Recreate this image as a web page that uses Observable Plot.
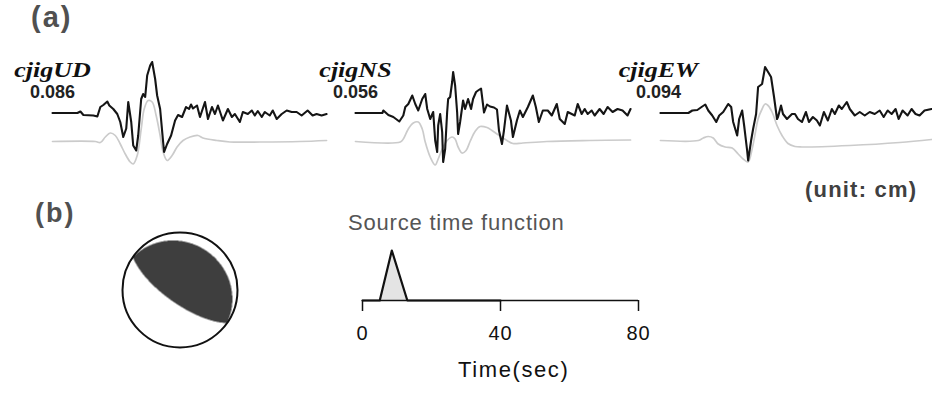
<!DOCTYPE html>
<html>
<head>
<meta charset="utf-8">
<script src="https://cdn.jsdelivr.net/npm/d3@7"></script>
<script src="https://cdn.jsdelivr.net/npm/@observablehq/plot@0.6"></script>
<style>
  html, body { margin: 0; padding: 0; background: #fff; }
  #root { position: relative; width: 932px; height: 397px; overflow: hidden; font-family: "Liberation Sans", Arial, sans-serif; }
  .abs { position: absolute; line-height: 1; white-space: nowrap; }
  .panel { font-weight: bold; color: #505050; }
  #stfwrap svg text { font-size: 20px !important; letter-spacing: 1px; fill: #111; }
</style>
</head>
<body>
<div id="root"></div>
<script>
// ---------------- DATA ----------------
const components = ["UD", "NS", "EW"];
const stationNames = ["cjigUD", "cjigNS", "cjigEW"];
const peakAmplitudes = ["0.086", "0.056", "0.094"];

// waveforms: [sample, amplitude]; observed (black) and synthetic (gray)
const obsUD = [[0,0],[25,0],[28,1.5],[31,-2],[41,-2.5],[45,-3.5],[48,6],[51,8],[55,11.5],[57,7.5],[61,4],[65,-1],[68,-9],[71,-24],[74,-15.5],[76,11],[79,-9],[81,-32.5],[84,-37.5],[86,-22.5],[89,14],[91,19],[93,16],[95,37.5],[98,47.5],[100,51],[103,34],[105,17.5],[108,4],[111,-29],[112,-39],[115,-31],[119,-22.5],[123,-7.5],[126,-2],[130,-4],[134,6],[137,4],[139,8.5],[141,4.5],[145,7.5],[148,-4],[153,11],[156,-6],[160,6],[163,-1],[166,7.5],[171,-7.5],[176,4],[180,-4],[183,-1],[188,-9],[191,1],[196,-1],[200,2.5],[203,-2.5],[206,2],[210,-4],[213,1],[218,-2.5],[221,2.5],[225,-6],[230,-1],[235,2.5],[240,1],[245,1],[250,-2.5],[256,2.5],[261,-2.5],[265,-1],[270,-2.5],[275,-1]];
const synUD = [[0,-0.5],[43,-0.5],[48,-1.5],[53,4],[58,8],[63,5.5],[68,-3],[73,-13],[78,-21],[81,-23],[85,-14.5],[89,12],[92,32],[96,40.5],[100,39],[104,25.5],[108,5.5],[111,-11],[115,-19.5],[120,-14.5],[125,-6],[131,0.5],[138,4],[146,5.5],[151,3],[165,0.5],[178,-1],[208,-1],[248,-0.5],[275,0.5]];
const obsNS = [[0,0],[27,0],[28,2.5],[33,-2],[38,-4],[44,-8.5],[48,-2.5],[50,6],[53,9],[57,17.5],[60,9],[63,2.5],[67,14],[70,19],[72,4],[75,-6],[78,1],[80,-27.5],[82,-39],[83,-12.5],[85,-1],[87,-19],[88,-49],[90,-36],[92,1],[93,14],[95,16],[97,31],[98,41],[100,27.5],[102,1],[103,-21],[105,-9],[108,12.5],[110,4],[113,14],[116,4],[118,14],[121,21],[123,22.5],[126,24.5],[129,0.5],[132,8.5],[135,6.5],[139,5.5],[142,3.5],[144,-17.5],[147,-31],[149,-17.5],[152,7.5],[156,-7.5],[158,-24],[162,-7.5],[165,2.5],[168,-4],[173,6],[178,17.5],[181,6],[184,-9],[188,2.5],[193,2.5],[197,-2.5],[202,9],[205,-6],[210,-11],[213,1],[217,-1],[220,-2.5],[223,9],[227,-1],[230,4],[233,-1],[237,2.5],[240,-2.5],[245,4],[249,-1],[253,6],[258,1],[263,4],[268,2.5],[273,-2.5],[276,4]];
const synNS = [[0,-0.5],[45,-1],[48,2],[53,12],[58,18],[63,19],[67,12],[70,-1],[75,-16],[80,-24],[83,-18],[87,-8],[92,0.5],[97,4],[100,2],[103,-6],[107,-12],[111,-9.5],[115,-0.5],[120,9.5],[125,14.5],[132,13.5],[137,10.5],[142,7],[152,0.5],[158,-2.5],[168,-2],[192,-0.5],[235,0.5],[276,1]];
const obsEW = [[2,0],[30,0],[34,2.5],[39,3],[44,6.5],[47,8.5],[50,2.5],[54,-2.5],[58,-9],[61,-2.5],[65,1],[70,9],[73,6],[75,-9],[79,-22.5],[81,-6],[84,2.5],[86,-12.5],[89,-37.5],[90,-47.5],[93,-27.5],[95,-16],[98,-1],[100,26],[102,27.5],[104,29],[107,46],[110,41],[113,36],[116,16],[119,-6],[120,-4],[123,7.5],[125,-1],[129,-6],[134,-1],[137,-1],[140,-6],[144,-9],[148,1],[151,-9],[155,-4],[159,-7.5],[162,-12.5],[166,1],[170,-7.5],[174,4],[177,-1],[181,7.5],[184,4],[189,11],[192,4],[197,-2.5],[202,1],[207,-2.5],[212,1],[217,-1],[222,2.5],[226,-4],[230,2.5],[234,-1],[238,4],[241,-6],[245,2.5],[250,-2.5],[254,4],[258,-1],[262,-2.5],[267,2.5],[274,4]];
const synEW = [[2,0.5],[40,0.5],[45,3],[50,4.5],[55,3],[60,-3],[67,-6],[74,-7],[80,-13],[85,-18],[90,-21],[94,-8],[97,7],[100,22],[104,32],[107,37],[110,35.5],[114,29],[119,15.5],[124,5.5],[130,-2.5],[137,-5.5],[144,-6],[192,-4.5],[242,-1.5],[274,1.5]];

// focal mechanism (degrees)
const strike = 125, dip = 71, rake = 90;

// source time function
const stfTime = [0, 5, 8.5, 13, 40];
const stfAmp  = [0, 0, 1, 0, 0];
const stfTicks = [0, 40, 80];

// ---------------- BUILD ----------------
const root = document.getElementById("root");
function addText(txt, cls, left, top, style) {
  const d = document.createElement("div");
  d.className = "abs " + (cls || "");
  d.textContent = txt;
  d.style.left = left + "px"; d.style.top = top + "px";
  Object.assign(d.style, style || {});
  root.appendChild(d);
  return d;
}
function place(node, left, top, id) {
  const w = document.createElement("div");
  w.className = "abs";
  if (id) w.id = id;
  w.style.left = left + "px"; w.style.top = top + "px";
  w.appendChild(node);
  root.appendChild(w);
}

// --- waveform panels ---
const traceGap = 28; // vertical offset of synthetic trace below observed
const series = {UD: [obsUD, synUD], NS: [obsNS, synNS], EW: [obsEW, synEW]};
const rows = [];
for (const c of components) {
  series[c][0].forEach(([t, a]) => rows.push({comp: c, kind: "obs", t, a}));
  series[c][1].forEach(([t, a]) => rows.push({comp: c, kind: "syn", t, a}));
}
const labels = components.map((c, i) => ({comp: c, name: stationNames[i], amp: peakAmplitudes[i]}));

const wave = Plot.plot({
  width: 932, height: 180,
  marginLeft: 52, marginRight: 0, marginTop: 0, marginBottom: 0,
  fx: {domain: components, paddingInner: 0.0954, paddingOuter: 0, round: false, axis: null},
  x: {domain: [0, 275], axis: null},
  y: {domain: [-67.5, 112.5], axis: null},
  style: {overflow: "visible", background: "transparent"},
  marks: [
    Plot.line(rows.filter(d => d.kind === "syn"), {fx: "comp", x: "t", y: d => d.a - traceGap, stroke: "#cbcbcb", strokeWidth: 1.7, curve: "catmull-rom"}),
    Plot.line(rows.filter(d => d.kind === "obs"), {fx: "comp", x: "t", y: "a", stroke: "#151515", strokeWidth: 2.1, strokeLinejoin: "round"}),
    Plot.text(labels, {fx: "comp", frameAnchor: "top-left", text: "name", textAnchor: "middle", lineAnchor: "bottom", dy: 76.5,
      fontFamily: "Liberation Serif, Times New Roman, serif", fontStyle: "italic", fontWeight: "bold", fontSize: 21, fill: "#111", className: "stname"}),
    Plot.text(labels, {fx: "comp", frameAnchor: "top-left", text: "amp", textAnchor: "middle", lineAnchor: "bottom", dy: 97,
      fontFamily: "Liberation Sans, Arial, sans-serif", fontWeight: "bold", fontSize: 18, fill: "#222"})
  ]
});
place(wave, 0, 0);
// stretch station names horizontally like the original lettering
wave.querySelectorAll("g.stname text, .stname text").forEach(t => {
  const L = t.getComputedTextLength();
  t.setAttribute("textLength", (L * 1.24).toFixed(1));
  t.setAttribute("lengthAdjust", "spacingAndGlyphs");
});

// --- beachball ---
const rad = Math.PI / 180;
const phi = strike * rad, del = dip * rad, lam = rake * rad;
const nrm = [-Math.sin(del) * Math.sin(phi), Math.sin(del) * Math.cos(phi), -Math.cos(del)];
const slip = [Math.cos(lam) * Math.cos(phi) + Math.sin(lam) * Math.cos(del) * Math.sin(phi),
              Math.cos(lam) * Math.sin(phi) - Math.sin(lam) * Math.cos(del) * Math.cos(phi),
              -Math.sin(lam) * Math.sin(del)];
function polarity(x, y) { // x east, y north, lower-hemisphere equal-area
  const r = Math.hypot(x, y);
  if (r > 1) return null;
  const th = 2 * Math.asin(Math.min(1, r / Math.SQRT2));
  const az = Math.atan2(x, y);
  const g = [Math.sin(th) * Math.cos(az), Math.sin(th) * Math.sin(az), Math.cos(th)];
  const gn = g[0] * nrm[0] + g[1] * nrm[1] + g[2] * nrm[2];
  const gd = g[0] * slip[0] + g[1] * slip[1] + g[2] * slip[2];
  return gn * gd > 0 ? "#3e3e3e" : null;
}
const ball = Plot.plot({
  width: 135, height: 135, margin: 10,
  x: {domain: [-1, 1], axis: null},
  y: {domain: [-1, 1], axis: null},
  color: {type: "identity"},
  style: {overflow: "visible", background: "transparent"},
  marks: [
    Plot.raster({fill: polarity, x1: -1, y1: -1, x2: 1, y2: 1, pixelSize: 0.5}),
    Plot.dot([{e: 0, n: 0}], {x: "e", y: "n", r: 57.5, fill: "none", stroke: "#111", strokeWidth: 2})
  ]
});
place(ball, 111.5, 221.5);

// --- source time function ---
const stf = stfTime.map((t, i) => ({t, a: stfAmp[i]}));
const stfPlot = Plot.plot({
  width: 350, height: 120,
  marginLeft: 32, marginRight: 42, marginTop: 10, marginBottom: 60,
  x: {domain: [0, 80], label: null},
  y: {domain: [0, 1], axis: null, label: null},
  style: {overflow: "visible", background: "transparent", fontFamily: "Liberation Sans, Arial, sans-serif", fontSize: "20px", color: "#111"},
  marks: [
    Plot.areaY(stf, {x: "t", y: "a", fill: "#e4e4e4"}),
    Plot.ruleY([0], {stroke: "#111", strokeWidth: 1.5}),
    Plot.line(stf, {x: "t", y: "a", stroke: "#111", strokeWidth: 2.2}),
    Plot.axisX({ticks: stfTicks, tickSize: 11, tickPadding: 14, strokeWidth: 1.5, label: null, fontSize: 20})
  ]
});
place(stfPlot, 330, 240, "stfwrap");

// --- texts ---
addText("(a)", "panel", 31, 2.5, {fontSize: "29px", letterSpacing: "2px"});
addText("(b)", "panel", 35, 199.5, {fontSize: "27px", letterSpacing: "2px"});
addText("(unit: cm)", "panel", 805, 178.5, {fontSize: "22px", letterSpacing: "1.2px", color: "#404040"});
addText("Source time function", "", 348, 212, {fontSize: "22px", letterSpacing: "0.8px", color: "#555"});
addText("Time(sec)", "", 458, 359, {fontSize: "22px", letterSpacing: "1.6px", color: "#111"});
</script>
</body>
</html>
